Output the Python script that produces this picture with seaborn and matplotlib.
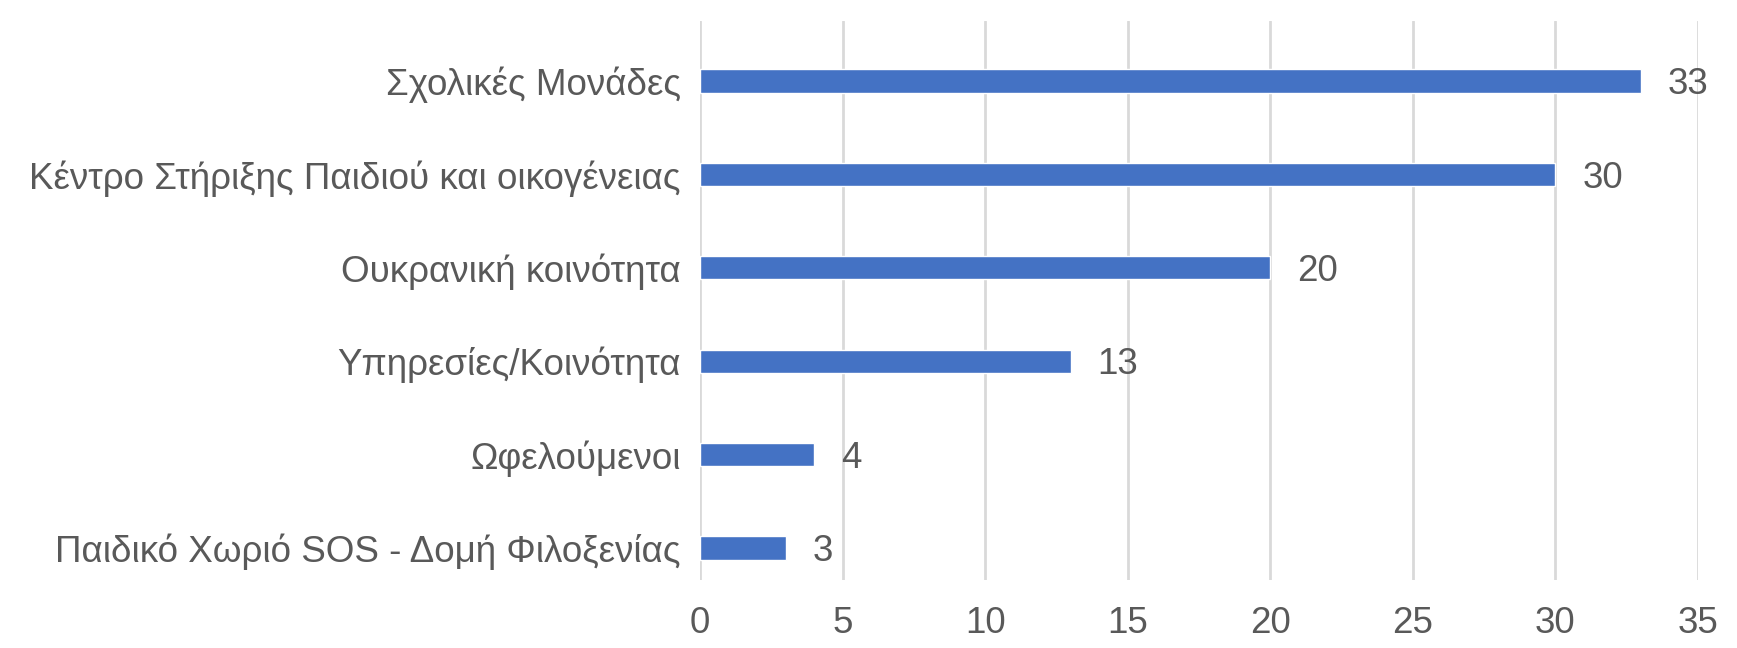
import matplotlib
matplotlib.use('Agg')
import matplotlib.pyplot as plt
import seaborn as sns
import pandas as pd

categories = ['Σχολικές Μονάδες',
              'Κέντρο Στήριξης Παιδιού και οικογένειας',
              'Ουκρανική κοινότητα',
              'Υπηρεσίες/Κοινότητα',
              'Ωφελούμενοι',
              'Παιδικό Χωριό SOS - Δομή Φιλοξενίας']
values = [33, 30, 20, 13, 4, 3]
xticks = [0, 5, 10, 15, 20, 25, 30, 35]

BAR_COLOR = '#4472C4'
TEXT_COLOR = '#595959'
GRID_COLOR = '#D9D9D9'

sns.set_theme(style='white')
plt.rcParams['font.family'] = ['Liberation Sans', 'DejaVu Sans']

df = pd.DataFrame({'cat': categories, 'val': values})

fig = plt.figure(figsize=(17.37, 6.48), dpi=100)
ax = fig.add_axes([0.403, 0.105, 0.5745, 0.8626])

sns.barplot(data=df, x='val', y='cat', orient='h', color=BAR_COLOR,
            width=0.25, saturation=1, ax=ax)

ax.set_xlim(0, 35)
ax.set_ylim(5.34, -0.64)
ax.set_xticks(xticks)
ax.xaxis.grid(True, color=GRID_COLOR, linewidth=2)
ax.set_axisbelow(True)
for s in ax.spines.values():
    s.set_visible(False)
ax.set_xlabel('')
ax.set_ylabel('')
ax.tick_params(axis='x', length=0, pad=19, labelsize=26.5, labelcolor=TEXT_COLOR)
ax.tick_params(axis='y', length=0, pad=14, labelsize=26.5, labelcolor=TEXT_COLOR)

for i, v in enumerate(values):
    ax.text(v + 0.95, i + 0.04, str(v), ha='left', va='center', fontsize=26.5, color=TEXT_COLOR)

plt.savefig('out.png', dpi=100)
